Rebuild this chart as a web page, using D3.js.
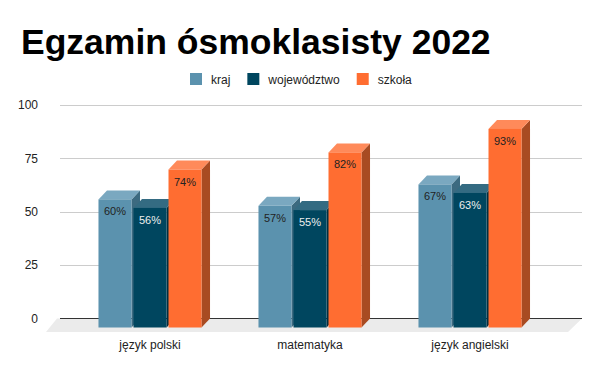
<!DOCTYPE html>
<html>
<head>
<meta charset="utf-8">
<script src="https://cdn.jsdelivr.net/npm/d3@7"></script>
<style>
  body { margin: 0; background: #fff; }
  svg { display: block; font-family: "Liberation Sans", Arial, sans-serif; }
</style>
</head>
<body>
<div id="container"></div>
<script>
/* DATA */
const categories = ["język polski", "matematyka", "język angielski"];
const seriesNames = ["kraj", "województwo", "szkoła"];
const kraj = [60, 57, 67];
const wojewodztwo = [56, 55, 63];
const szkola = [74, 82, 93];
const yTicks = [0, 25, 50, 75, 100];

/* CONSTANTS */
const width = 600, height = 371;
const depthX = 8.5, depthY = 9;   // 3d offset of bar back face
const colors = {
  "kraj":        {front: "#5b92ae", top: "#7aa8c0", side: "#3c6a80", label: "#222"},
  "województwo": {front: "#00465f", top: "#346b82", side: "#002f40", label: "#eee"},
  "szkoła":      {front: "#ff6d31", top: "#ff8a5a", side: "#a84b22", label: "#222"}
};

const rows = categories.map((c, i) => ({
  category: c,
  values: [
    {series: "kraj", value: kraj[i]},
    {series: "województwo", value: wojewodztwo[i]},
    {series: "szkoła", value: szkola[i]}
  ]
}));

const svg = d3.select("#container")
  .append("svg")
  .attr("width", width)
  .attr("height", height);

/* SCALES */
const yScale = d3.scaleLinear()
  .domain([0, 100])
  .range([318.5, 105]);

// front plane of the bars
const x0 = d3.scaleBand()
  .domain(categories)
  .range([50, 570])
  .paddingInner(0.356)
  .paddingOuter(0.303);

const x1 = d3.scaleBand()
  .domain(seriesNames)
  .range([0, x0.bandwidth()])
  .paddingInner(0.057);

/* TITLE */
svg.append("text")
  .attr("x", 21)
  .attr("y", 54)
  .attr("font-size", 35.5)
  .attr("font-weight", "bold")
  .attr("fill", "#000")
  .text("Egzamin ósmoklasisty 2022");

/* LEGEND */
const legend = svg.append("g");
let lx = 190;
seriesNames.forEach(s => {
  legend.append("rect")
    .attr("x", lx).attr("y", 73)
    .attr("width", 12).attr("height", 12)
    .attr("fill", colors[s].front);
  const t = legend.append("text")
    .attr("x", lx + 21).attr("y", 84)
    .attr("font-size", 12)
    .attr("fill", "#222")
    .text(s);
  lx += 21 + t.node().getComputedTextLength() + 17;
});

/* FLOOR */
const y0 = yScale(0);
const floorDepthX = 14, floorDepthY = 13.5;
svg.append("path")
  .attr("d", `M57,${y0} L582,${y0} L${582 - floorDepthX},${y0 + floorDepthY} L${57 - 11},${y0 + floorDepthY} Z`)
  .attr("fill", "#ebebeb");

/* GRID */
svg.append("g")
  .selectAll("line")
  .data(yTicks.filter(d => d > 0))
  .join("line")
  .attr("x1", 60).attr("x2", 582)
  .attr("y1", d => Math.round(yScale(d)) + 0.5)
  .attr("y2", d => Math.round(yScale(d)) + 0.5)
  .attr("stroke", "#ccc");

svg.append("line")
  .attr("x1", 60).attr("x2", 582)
  .attr("y1", y0).attr("y2", y0)
  .attr("stroke", "#333")
  .attr("stroke-width", 1.2);

// y axis labels
const yAxis = d3.axisLeft(yScale).tickValues(yTicks).tickSize(0).tickPadding(0);
const yg = svg.append("g")
  .attr("transform", "translate(38,0)")
  .call(yAxis);
yg.select(".domain").remove();
yg.selectAll("text")
  .attr("font-size", 12)
  .attr("font-family", "Liberation Sans, Arial, sans-serif")
  .attr("fill", "#222");

/* BARS */
const groups = svg.selectAll("g.group")
  .data(rows)
  .join("g")
  .attr("class", "group")
  .attr("transform", d => `translate(${x0(d.category)},0)`);

const bars = groups.selectAll("g.bar")
  .data(d => d.values)
  .join("g")
  .attr("class", "bar");

const bw = x1.bandwidth();
const fb = y0 + depthY; // front baseline

bars.append("path") // side
  .attr("d", d => {
    const x = x1(d.series), yf = yScale(d.value) + depthY;
    return `M${x + bw},${yf} L${x + bw + depthX},${yf - depthY} L${x + bw + depthX},${fb - depthY} L${x + bw},${fb} Z`;
  })
  .attr("fill", d => colors[d.series].side);

bars.append("path") // top
  .attr("d", d => {
    const x = x1(d.series), yf = yScale(d.value) + depthY;
    return `M${x},${yf} L${x + bw},${yf} L${x + bw + depthX},${yf - depthY} L${x + depthX},${yf - depthY} Z`;
  })
  .attr("fill", d => colors[d.series].top);

bars.append("rect") // front
  .attr("x", d => x1(d.series))
  .attr("y", d => yScale(d.value) + depthY)
  .attr("width", bw)
  .attr("height", d => yScale(0) - yScale(d.value))
  .attr("fill", d => colors[d.series].front);

bars.append("text")
  .attr("x", d => x1(d.series) + bw / 2)
  .attr("y", d => yScale(d.value) + depthY + 16)
  .attr("text-anchor", "middle")
  .attr("font-size", 11)
  .attr("fill", d => colors[d.series].label)
  .text(d => d.value + "%");

/* CATEGORY LABELS */
svg.append("g")
  .selectAll("text")
  .data(categories)
  .join("text")
  .attr("x", d => x0(d) + x0.bandwidth() / 2)
  .attr("y", 349)
  .attr("text-anchor", "middle")
  .attr("font-size", 12)
  .attr("fill", "#222")
  .text(d => d);
</script>
</body>
</html>
